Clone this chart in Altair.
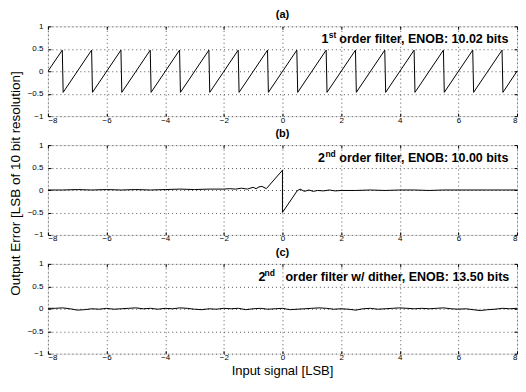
import altair as alt
import pandas as pd

# ---- data ----
a_x = [-8, -7.51, -7.48, -6.51, -6.48, -5.51, -5.48, -4.51, -4.48, -3.51, -3.48,
       -2.51, -2.48, -1.51, -1.48, -0.51, -0.48, 0.49, 0.52, 1.49, 1.52, 2.49, 2.52,
       3.49, 3.52, 4.49, 4.52, 5.49, 5.52, 6.49, 6.52, 7.49, 7.52, 8]
a_y = [0.0, 0.47, -0.47, 0.47, -0.47, 0.47, -0.47, 0.47, -0.47, 0.47, -0.47,
       0.47, -0.47, 0.47, -0.47, 0.47, -0.47, 0.47, -0.47, 0.47, -0.47, 0.47, -0.47,
       0.47, -0.47, 0.47, -0.47, 0.47, -0.47, 0.47, -0.47, 0.47, -0.47, 0.0]

b_x = [-8, -7.5, -7, -6.5, -6, -5.5, -5, -4.5, -4, -3.5, -3, -2.5, -2, -1.8, -1.6,
       -1.4, -1.2, -1.0, -0.9, -0.8, -0.7, -0.55, 0.0, 0.0, 0.5, 0.6, 0.75, 0.9, 1.05,
       1.2, 1.4, 1.6, 1.8, 2.0, 2.5, 3, 3.5, 4, 4.5, 5, 5.5, 6, 6.5, 7, 7.5, 8]
b_y = [0.0, 0.0, 0.01, 0.0, 0.01, 0.0, 0.01, 0.0, 0.01, 0.02, 0.01, 0.02, 0.02, 0.03, 0.02,
       0.04, 0.02, 0.06, 0.03, 0.07, 0.08, 0.03, 0.44, -0.5, -0.02, 0.02, -0.03, 0.0, -0.03,
       -0.01, -0.02, 0.0, -0.02, -0.01, -0.01, 0.0, -0.01, 0.0, 0.0, -0.01, 0.0, 0.0, 0.0, 0.0, 0.0, 0.0]

c_x = [-8.0, -7.75, -7.5, -7.25, -7.0, -6.75, -6.5, -6.25, -6.0, -5.75, -5.5, -5.25, -5.0,
       -4.75, -4.5, -4.25, -4.0, -3.75, -3.5, -3.25, -3.0, -2.75, -2.5, -2.25, -2.0,
       -1.75, -1.5, -1.25, -1.0, -0.75, -0.5, -0.25, 0.0, 0.25, 0.5, 0.75, 1.0, 1.25, 1.5,
       1.75, 2.0, 2.25, 2.5, 2.75, 3.0, 3.25, 3.5, 3.75, 4.0, 4.25, 4.5, 4.75, 5.0, 5.25,
       5.5, 5.75, 6.0, 6.25, 6.5, 6.75, 7.0, 7.25, 7.5, 7.75, 8.0]
c_y = [0.01, 0.01, 0.02, 0.0, -0.03, -0.02, 0.0, -0.01, 0.01, -0.01, 0.0, 0.01, 0.02,
       0.0, 0.01, -0.01, 0.01, 0.0, 0.02, 0.01, -0.01, -0.02, 0.0, -0.01, 0.01,
       0.0, 0.01, -0.02, 0.0, 0.01, -0.01, 0.0, 0.01, -0.02, -0.01, 0.0, 0.01, 0.02, 0.01,
       -0.01, 0.0, -0.01, -0.03, 0.0, 0.01, -0.01, 0.0, 0.01, 0.02, 0.01, 0.0, 0.01, 0.0, 0.01,
       0.02, 0.0, -0.01, 0.0, -0.02, -0.04, -0.02, -0.01, 0.01, 0.0, 0.01]

x_ticks = [-8, -6, -4, -2, 0, 2, 4, 6, 8]
y_ticks = [-1, -0.5, 0, 0.5, 1]
panel_labels = ["(a)", "(b)", "(c)"]
order_num = ["1", "2", "2"]
order_sup = ["st", "nd", "nd"]
captions = ["order filter, ENOB: 10.02 bits",
            "order filter, ENOB: 10.00 bits",
            "order filter w/ dither, ENOB: 13.50 bits"]
x_title = "Input signal [LSB]"
y_title = "Output Error [LSB of 10 bit resolution]"

# ---- layout / style ----
W, H = 470, 90
FONT = "Liberation Sans"
rest_left = [W - 178, W - 178, W - 232]
sup_gap = [10.5, 14, 21]
num_gap = [7.5, 7.5, 6]

xs = alt.Scale(domain=[-8, 8], nice=False, zero=False)
ys = alt.Scale(domain=[-1, 1], nice=False, zero=False)

common = dict(domain=False, ticks=True, tickSize=3, tickColor="black", offset=-3, title=None)
grid = dict(grid=True, gridDash=[1, 3], gridColor="#444", gridOpacity=0.9, gridWidth=1)

x_bottom = alt.Axis(values=x_ticks, format="~g", labelPadding=0, labelFontSize=8,
                    labelFont=FONT, labelColor="black", **grid, **common)
y_left = alt.Axis(values=y_ticks, format="~g", labelPadding=5, labelFontSize=8,
                  labelFont=FONT, labelColor="black", **grid, **common)
x_top = alt.Axis(orient="top", values=x_ticks, labels=False, grid=False, **common)
y_right = alt.Axis(orient="right", values=y_ticks, labels=False, grid=False, **common)


def txt(s, x, y, size, bold=True, align="left", baseline="alphabetic", angle=None):
    kw = dict(font=FONT, fontSize=size, fontWeight="bold" if bold else "normal",
              align=align, baseline=baseline, color="black")
    if angle is not None:
        kw["angle"] = angle
    return alt.Chart(pd.DataFrame({"t": [s]})).mark_text(**kw).encode(
        x=alt.value(x), y=alt.value(y), text="t:N")


def panel(xv, yv, i):
    df = pd.DataFrame({"x": xv, "y": yv, "i": list(range(len(xv)))})
    line = alt.Chart(df).mark_line(color="black", strokeWidth=1, clip=True).encode(
        x=alt.X("x:Q", scale=xs, axis=x_bottom),
        y=alt.Y("y:Q", scale=ys, axis=y_left),
        order="i:Q")
    mirror = alt.Chart(df).mark_point(opacity=0, size=1).encode(
        x=alt.X("x:Q", scale=xs, axis=x_top),
        y=alt.Y("y:Q", scale=ys, axis=y_right))
    r = rest_left[i]
    s = r - sup_gap[i]
    n = s - num_gap[i]
    layers = [line, mirror,
              txt(panel_labels[i], W / 2, -8, 11, align="center"),
              txt(order_num[i], n, 17, 12.5),
              txt(order_sup[i], s, 12, 8.5),
              txt(captions[i], r, 17, 12.5)]
    if i == 1:
        layers.append(txt(y_title, -32, 38.5, 13.5, bold=False, align="center",
                          baseline="middle", angle=270))
    if i == 2:
        layers.append(txt(x_title, W / 2, H + 21, 13, bold=False, align="center"))
    return alt.layer(*layers).resolve_axis(x="independent", y="independent").properties(
        width=W, height=H)


chart = alt.vconcat(panel(a_x, a_y, 0), panel(b_x, b_y, 1), panel(c_x, c_y, 2),
                    spacing=29, bounds="flush").properties(
    padding={"left": 0, "top": 0, "right": 0, "bottom": 0}
).configure_view(stroke="black", strokeWidth=1).configure(font=FONT, background="white")

chart.save("out.html", embed_options={"renderer": "svg", "actions": False})
